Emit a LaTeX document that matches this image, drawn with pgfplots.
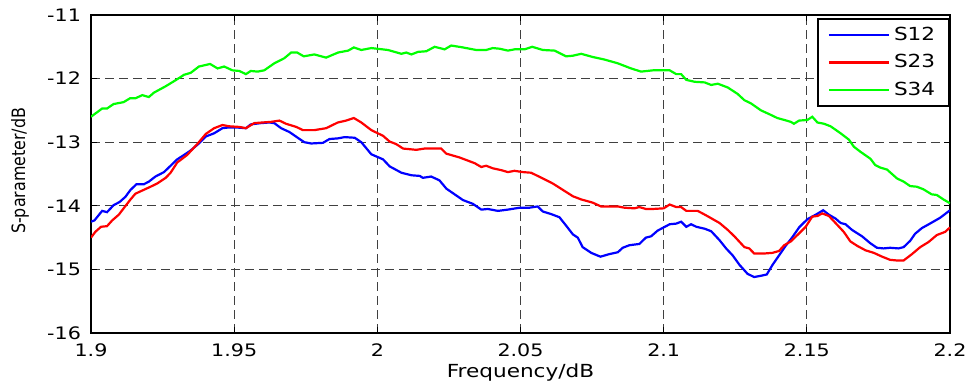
\documentclass[border=0pt]{standalone}
\usepackage{fontspec}
\setmainfont{DejaVu Sans}[FakeStretch=1.2]
\usepackage{graphicx}
\usepackage{pgfplots}
\pgfplotsset{compat=1.18}

\begin{document}
\begin{tikzpicture}
\useasboundingbox (0,0) rectangle (487pt,195pt);
\begin{axis}[
    at={(45.5pt,28.5pt)}, anchor=south west,
    scale only axis,
    width=429.5pt, height=159pt,
    xmin=1.9, xmax=2.2, ymin=-16, ymax=-11,
    xtick={1.9,1.95,2,2.05,2.1,2.15,2.2},
    ytick={-16,-15,-14,-13,-12,-11},
    /pgf/number format/assume math mode=true,
    /pgf/number format/fixed,
    /pgf/number format/precision=2,
    ticklabel style={font=\fontsize{8.6}{10}\selectfont},
    xticklabel style={yshift=-2pt},
    yticklabel style={xshift=-1.5pt},
    tick align=inside,
    major tick length=3pt,
    tick style={black, line width=0.5pt},
    axis line style={black, line width=1pt},
    grid=major,
    major grid style={black!75, line width=0.5pt, dash pattern=on 4.5pt off 2.5pt},
    xlabel={Frequency/dB},
    ylabel={\scalebox{0.72}[1]{S-parameter/dB}},
    xlabel style={font=\fontsize{9}{10}\selectfont, at={(axis description cs:0.5,-0.125)}, anchor=center},
    ylabel style={font=\fontsize{9.2}{10}\selectfont, at={(axis description cs:-0.0827,0.51)}, anchor=center},
    legend style={at={(1,0.99)}, anchor=north east, draw=black, line width=0.8pt,
        font=\fontsize{9}{10}\selectfont, inner xsep=5pt, inner ysep=2pt, row sep=1.5pt},
    legend cell align=left,
    legend image code/.code={\draw[#1, line width=1.1pt] (0pt,0pt) -- (30pt,0pt);},
    every axis plot/.append style={line width=1.1pt},
]
\addplot[blue] coordinates {
(1.9000,-14.25) (1.9012,-14.23) (1.9039,-14.08) (1.9056,-14.10) (1.9079,-13.99) (1.9100,-13.94) (1.9120,-13.86) (1.9138,-13.75) (1.9159,-13.66) (1.9185,-13.66) (1.9202,-13.62) (1.9225,-13.54) (1.9255,-13.47) (1.9278,-13.37) (1.9301,-13.27) (1.9325,-13.20) (1.9348,-13.13) (1.9377,-13.02) (1.9401,-12.91) (1.9430,-12.86) (1.9459,-12.78) (1.9477,-12.77) (1.9512,-12.77) (1.9541,-12.78) (1.9558,-12.72) (1.9593,-12.70) (1.9623,-12.69) (1.9640,-12.70) (1.9664,-12.78) (1.9693,-12.84) (1.9722,-12.93) (1.9745,-13.00) (1.9769,-13.02) (1.9810,-13.01) (1.9833,-12.95) (1.9862,-12.94) (1.9886,-12.92) (1.9921,-12.93) (1.9944,-13.00) (1.9979,-13.19) (2.0020,-13.27) (2.0043,-13.38) (2.0084,-13.48) (2.0119,-13.52) (2.0148,-13.53) (2.0159,-13.56) (2.0188,-13.54) (2.0217,-13.60) (2.0241,-13.73) (2.0270,-13.82) (2.0299,-13.91) (2.0334,-13.97) (2.0363,-14.06) (2.0386,-14.05) (2.0421,-14.08) (2.0456,-14.06) (2.0497,-14.03) (2.0531,-14.03) (2.0560,-14.01) (2.0578,-14.09) (2.0607,-14.13) (2.0636,-14.18) (2.0659,-14.31) (2.0683,-14.45) (2.0700,-14.50) (2.0717,-14.65) (2.0747,-14.74) (2.0779,-14.80) (2.0810,-14.76) (2.0840,-14.73) (2.0857,-14.66) (2.0880,-14.62) (2.0915,-14.60) (2.0938,-14.50) (2.0956,-14.48) (2.0979,-14.39) (2.1000,-14.34) (2.1021,-14.29) (2.1044,-14.28) (2.1061,-14.25) (2.1079,-14.33) (2.1096,-14.29) (2.1114,-14.33) (2.1143,-14.36) (2.1166,-14.40) (2.1195,-14.54) (2.1218,-14.67) (2.1241,-14.78) (2.1265,-14.93) (2.1293,-15.07) (2.1316,-15.12) (2.1340,-15.10) (2.1360,-15.08) (2.1380,-14.93) (2.1403,-14.78) (2.1426,-14.63) (2.1450,-14.49) (2.1473,-14.34) (2.1502,-14.21) (2.1531,-14.14) (2.1557,-14.07) (2.1577,-14.14) (2.1600,-14.20) (2.1618,-14.27) (2.1635,-14.29) (2.1658,-14.38) (2.1693,-14.48) (2.1722,-14.59) (2.1745,-14.66) (2.1768,-14.67) (2.1791,-14.66) (2.1820,-14.67) (2.1838,-14.65) (2.1861,-14.55) (2.1878,-14.44) (2.1902,-14.35) (2.1930,-14.28) (2.1965,-14.19) (2.2000,-14.07)
};
\addlegendentry{S12}
\addplot[red] coordinates {
(1.9000,-14.50) (1.9015,-14.41) (1.9035,-14.33) (1.9056,-14.32) (1.9074,-14.23) (1.9097,-14.14) (1.9114,-14.04) (1.9138,-13.90) (1.9155,-13.81) (1.9179,-13.76) (1.9208,-13.70) (1.9231,-13.65) (1.9261,-13.56) (1.9278,-13.48) (1.9301,-13.32) (1.9336,-13.20) (1.9371,-13.03) (1.9401,-12.87) (1.9430,-12.78) (1.9459,-12.73) (1.9483,-12.75) (1.9518,-12.76) (1.9541,-12.78) (1.9570,-12.70) (1.9599,-12.69) (1.9629,-12.68) (1.9658,-12.66) (1.9681,-12.71) (1.9717,-12.76) (1.9740,-12.81) (1.9780,-12.81) (1.9821,-12.78) (1.9862,-12.69) (1.9891,-12.66) (1.9918,-12.62) (1.9944,-12.69) (1.9979,-12.81) (2.0020,-12.90) (2.0043,-12.99) (2.0066,-13.03) (2.0090,-13.10) (2.0136,-13.12) (2.0165,-13.10) (2.0223,-13.10) (2.0241,-13.18) (2.0287,-13.24) (2.0340,-13.33) (2.0363,-13.39) (2.0380,-13.37) (2.0403,-13.41) (2.0433,-13.44) (2.0456,-13.47) (2.0479,-13.45) (2.0508,-13.47) (2.0537,-13.48) (2.0578,-13.57) (2.0613,-13.65) (2.0648,-13.75) (2.0683,-13.85) (2.0712,-13.90) (2.0752,-13.95) (2.0781,-14.01) (2.0840,-14.01) (2.0863,-14.03) (2.0898,-14.04) (2.0915,-14.02) (2.0938,-14.05) (2.0962,-14.05) (2.1000,-14.04) (2.1021,-13.98) (2.1044,-14.02) (2.1061,-14.02) (2.1079,-14.08) (2.1119,-14.08) (2.1148,-14.15) (2.1195,-14.27) (2.1224,-14.38) (2.1247,-14.48) (2.1282,-14.65) (2.1299,-14.67) (2.1316,-14.75) (2.1351,-14.75) (2.1380,-14.74) (2.1403,-14.71) (2.1421,-14.62) (2.1444,-14.56) (2.1467,-14.46) (2.1496,-14.33) (2.1519,-14.17) (2.1537,-14.16) (2.1554,-14.12) (2.1577,-14.16) (2.1600,-14.27) (2.1629,-14.41) (2.1652,-14.56) (2.1676,-14.63) (2.1705,-14.70) (2.1734,-14.74) (2.1763,-14.80) (2.1791,-14.85) (2.1815,-14.86) (2.1838,-14.86) (2.1867,-14.76) (2.1896,-14.65) (2.1925,-14.57) (2.1954,-14.46) (2.1983,-14.41) (2.2000,-14.34)
};
\addlegendentry{S23}
\addplot[green] coordinates {
(1.9000,-12.60) (1.9015,-12.55) (1.9039,-12.47) (1.9056,-12.47) (1.9079,-12.40) (1.9114,-12.37) (1.9136,-12.31) (1.9155,-12.31) (1.9179,-12.26) (1.9202,-12.29) (1.9220,-12.22) (1.9261,-12.12) (1.9301,-12.01) (1.9325,-11.94) (1.9348,-11.91) (1.9377,-11.81) (1.9416,-11.77) (1.9442,-11.84) (1.9465,-11.81) (1.9494,-11.87) (1.9518,-11.88) (1.9541,-11.93) (1.9558,-11.88) (1.9582,-11.89) (1.9605,-11.87) (1.9640,-11.76) (1.9675,-11.68) (1.9699,-11.59) (1.9720,-11.59) (1.9743,-11.65) (1.9780,-11.62) (1.9821,-11.67) (1.9863,-11.59) (1.9898,-11.56) (1.9918,-11.51) (1.9944,-11.55) (1.9979,-11.52) (2.0037,-11.55) (2.0084,-11.61) (2.0101,-11.59) (2.0119,-11.62) (2.0142,-11.58) (2.0171,-11.57) (2.0200,-11.50) (2.0235,-11.54) (2.0258,-11.48) (2.0299,-11.51) (2.0345,-11.55) (2.0380,-11.55) (2.0403,-11.52) (2.0427,-11.53) (2.0456,-11.56) (2.0479,-11.54) (2.0514,-11.54) (2.0541,-11.50) (2.0578,-11.55) (2.0619,-11.56) (2.0659,-11.65) (2.0683,-11.64) (2.0712,-11.61) (2.0752,-11.66) (2.0793,-11.70) (2.0840,-11.76) (2.0886,-11.84) (2.0921,-11.89) (2.0963,-11.87) (2.1021,-11.87) (2.1044,-11.93) (2.1061,-11.93) (2.1079,-12.02) (2.1108,-12.05) (2.1143,-12.06) (2.1166,-12.10) (2.1189,-12.08) (2.1224,-12.14) (2.1258,-12.24) (2.1282,-12.34) (2.1305,-12.39) (2.1340,-12.50) (2.1374,-12.57) (2.1397,-12.62) (2.1421,-12.65) (2.1444,-12.68) (2.1455,-12.71) (2.1473,-12.66) (2.1502,-12.65) (2.1519,-12.60) (2.1537,-12.69) (2.1560,-12.71) (2.1583,-12.75) (2.1618,-12.86) (2.1647,-12.96) (2.1664,-13.07) (2.1687,-13.15) (2.1722,-13.26) (2.1739,-13.36) (2.1757,-13.40) (2.1780,-13.43) (2.1815,-13.57) (2.1838,-13.62) (2.1861,-13.69) (2.1884,-13.70) (2.1907,-13.74) (2.1936,-13.82) (2.1954,-13.83) (2.1977,-13.90) (2.2000,-13.96)
};
\addlegendentry{S34}
\end{axis}
\end{tikzpicture}
\end{document}
